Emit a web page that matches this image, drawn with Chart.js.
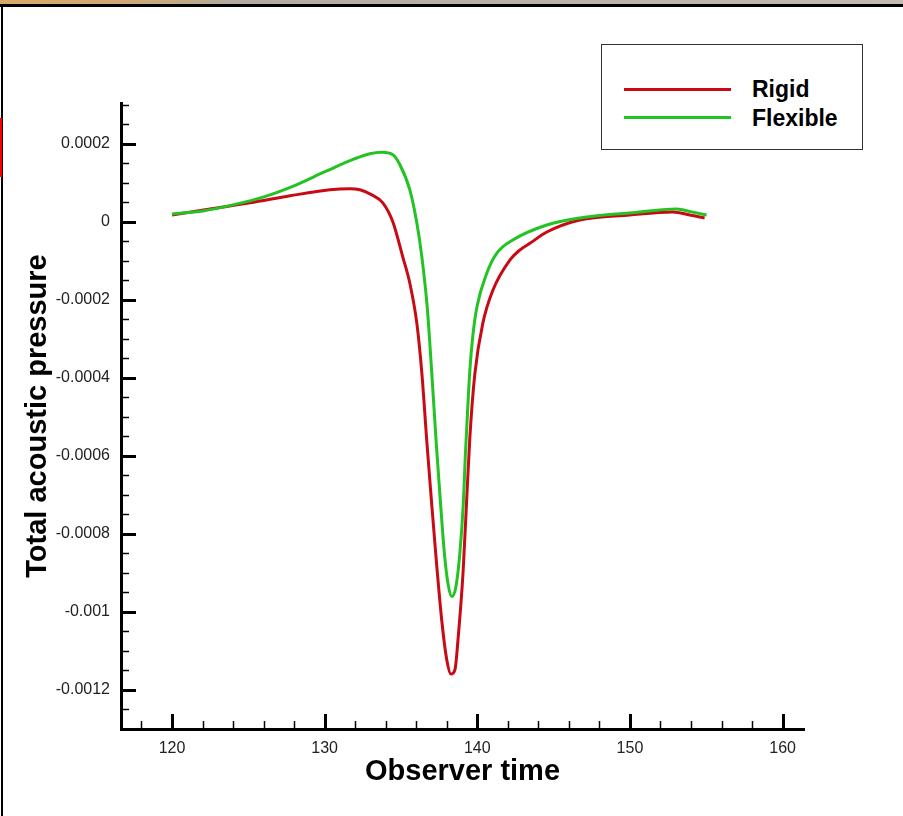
<!DOCTYPE html>
<html>
<head>
<meta charset="utf-8">
<title>Total acoustic pressure</title>
<script src="https://cdn.jsdelivr.net/npm/chart.js@4.4.1/dist/chart.umd.min.js"></script>
<style>
  html, body { margin: 0; padding: 0; background: #fff; }
  #wrap { position: relative; width: 903px; height: 816px; overflow: hidden; background: #fff; }
  #c { position: absolute; left: 0; top: 0; }
  /* window frame around the plot */
  .bar-top { position: absolute; left: 0; top: 0; width: 903px; height: 4px;
    background: linear-gradient(to right, #d8aa66 0, #cfa874 14%, #b3ab9e 26%, #bbb4a8 70%, #c2bbb0 100%); }
  .rule-top { position: absolute; left: 0; top: 4px; width: 903px; height: 3px; background: #000; }
  .rule-left { position: absolute; left: 1px; top: 4px; width: 2px; height: 812px; background: #000; }
  .mark-left { position: absolute; left: 0; top: 118px; width: 2px; height: 59px; background: #f00; }
  #legend { position: absolute; left: 601px; top: 44px; width: 262px; height: 106px; box-sizing: border-box;
    border: 1px solid #333; padding: 30px 0 0 22px; background: #fff; }
  #legend .row { display: flex; align-items: center; height: 28.5px; }
  #legend .sw { width: 107px; height: 3px; margin-right: 21px; }
  #legend .lb { font: bold 23px "Liberation Sans", Arial, sans-serif; line-height: 28.5px; color: #000; }
</style>
</head>
<body>
<div id="wrap">
  <canvas id="c" width="903" height="816"></canvas>
  <div class="bar-top"></div>
  <div class="rule-top"></div>
  <div class="rule-left"></div>
  <div class="mark-left"></div>
  <div id="legend"></div>
</div>
<script>
// ── axis setup ──
const X_MIN = 116.66, X_MAX = 161.4;
const Y_MIN = -0.0013, Y_MAX = 0.000305;
const X_TICKS = [120, 130, 140, 150, 160];
const X_LABELS = ['120', '130', '140', '150', '160'];
const Y_TICKS = [0.0002, 0, -0.0002, -0.0004, -0.0006, -0.0008, -0.001, -0.0012];
const Y_LABELS = ['0.0002', '0', '-0.0002', '-0.0004', '-0.0006', '-0.0008', '-0.001', '-0.0012'];
const X_MINOR_STEP = 2;
const Y_MINOR_STEP = 0.00005;

// ── series: observer time vs total acoustic pressure ──
const T_RIGID = [120.00, 122.49, 125.11, 127.73, 130.34, 131.65, 132.31, 133.09, 133.81, 134.47,
  135.12, 135.58, 136.04, 136.37, 136.69, 136.93, 137.28, 137.68, 138.00, 138.27,
  138.53, 138.74, 139.07, 139.29, 139.51, 139.84, 140.36, 141.02, 142.13, 142.78,
  143.44, 144.55, 146.71, 149.98, 152.80, 153.91, 154.89];
const P_RIGID = [0.180e-4, 0.335e-4, 0.489e-4, 0.670e-4, 0.824e-4, 0.850e-4, 0.824e-4, 0.695e-4, 0.489e-4, 0,
  -0.901e-4, -1.571e-4, -2.601e-4, -3.889e-4, -5.614e-4, -6.825e-4, -8.524e-4, -10.250e-4, -11.228e-4, -11.589e-4,
  -11.486e-4, -10.688e-4, -8.962e-4, -7.237e-4, -5.537e-4, -3.889e-4, -2.601e-4, -1.751e-4, -0.979e-4, -0.721e-4,
  -0.549e-4, -0.258e-4, 0.052e-4, 0.180e-4, 0.258e-4, 0.180e-4, 0.103e-4];

const T_FLEX = [120.00, 122.03, 123.99, 126.02, 127.99, 130.02, 131.98, 132.96, 133.75, 134.47,
  134.93, 135.58, 136.04, 136.37, 136.72, 137.02, 137.30, 137.52, 137.85, 138.09,
  138.33, 138.59, 138.85, 139.08, 139.22, 139.33, 139.51, 139.71, 139.97, 140.62,
  141.28, 142.32, 144.55, 146.71, 149.98, 153.06, 154.04, 155.02];
const P_FLEX = [0.206e-4, 0.283e-4, 0.438e-4, 0.644e-4, 0.927e-4, 1.288e-4, 1.622e-4, 1.751e-4, 1.790e-4, 1.725e-4,
  1.468e-4, 0.824e-4, -0.026e-4, -0.901e-4, -2.189e-4, -3.889e-4, -5.614e-4, -6.825e-4, -8.524e-4, -9.297e-4,
  -9.606e-4, -9.374e-4, -8.524e-4, -7.237e-4, -5.949e-4, -5.099e-4, -3.811e-4, -2.910e-4, -2.189e-4, -1.313e-4,
  -0.798e-4, -0.464e-4, -0.077e-4, 0.103e-4, 0.232e-4, 0.335e-4, 0.258e-4, 0.180e-4];

const FONT = '"Liberation Sans", Arial, sans-serif';
const pts = (xs, ys) => xs.map((x, i) => ({ x, y: ys[i] }));

// inward major/minor tick marks on both axes
const innerTicks = {
  id: 'innerTicks',
  afterDraw(chart) {
    const { ctx, chartArea: a, scales: { x, y } } = chart;
    ctx.save();
    ctx.strokeStyle = '#000';
    const xMark = (v, len, w) => {
      const px = Math.round(x.getPixelForValue(v)) + (w % 2 ? 0.5 : 0);
      ctx.lineWidth = w;
      ctx.beginPath(); ctx.moveTo(px, a.bottom); ctx.lineTo(px, a.bottom - len); ctx.stroke();
    };
    const yMark = (v, len, w) => {
      const py = Math.round(y.getPixelForValue(v)) + (w % 2 ? 0.5 : 0);
      ctx.lineWidth = w;
      ctx.beginPath(); ctx.moveTo(a.left, py); ctx.lineTo(a.left + len, py); ctx.stroke();
    };
    for (let k = Math.ceil(X_MIN / X_MINOR_STEP); k * X_MINOR_STEP <= X_MAX; k++) xMark(k * X_MINOR_STEP, 8, 1.5);
    for (let k = Math.ceil(Y_MIN / Y_MINOR_STEP); k * Y_MINOR_STEP <= Y_MAX; k++) yMark(k * Y_MINOR_STEP, 8, 1.5);
    X_TICKS.forEach(v => xMark(v, 15, 3));
    Y_TICKS.forEach(v => yMark(v, 15, 3));
    ctx.restore();
  }
};

const chart = new Chart(document.getElementById('c'), {
  type: 'line',
  data: {
    datasets: [
      { label: 'Rigid', data: pts(T_RIGID, P_RIGID), borderColor: '#c80a14', order: 1 },
      { label: 'Flexible', data: pts(T_FLEX, P_FLEX), borderColor: '#22c322', order: 0 }
    ]
  },
  options: {
    responsive: false,
    animation: false,
    devicePixelRatio: 1,
    parsing: false,
    layout: { padding: { left: 10, top: 103, right: 99, bottom: 20 }, autoPadding: false },
    plugins: { legend: { display: false }, tooltip: { enabled: false } },
    elements: {
      point: { radius: 0 },
      line: { borderWidth: 3, cubicInterpolationMode: 'monotone', fill: false }
    },
    scales: {
      x: {
        type: 'linear', min: X_MIN, max: X_MAX,
        afterBuildTicks: s => { s.ticks = X_TICKS.map(v => ({ value: v })); },
        afterFit: s => { s.height = 67; },
        grid: { display: false, drawTicks: false },
        border: { display: true, color: '#000', width: 3 },
        ticks: { color: '#222', font: { family: FONT, size: 16 }, padding: 10, maxRotation: 0, autoSkip: false,
          callback: (v, i) => X_LABELS[i] },
        title: { display: true, text: 'Observer time', color: '#000',
          font: { family: FONT, size: 29, weight: 'bold' }, padding: { top: 0, bottom: 6.6 } }
      },
      y: {
        type: 'linear', min: Y_MIN, max: Y_MAX,
        afterBuildTicks: s => { s.ticks = Y_TICKS.map(v => ({ value: v })); },
        afterFit: s => { s.width = 111; },
        grid: { display: false, drawTicks: false },
        border: { display: true, color: '#000', width: 3 },
        ticks: { color: '#222', font: { family: FONT, size: 16 }, padding: 11, autoSkip: false,
          callback: (v, i) => Y_LABELS[i] },
        title: { display: true, text: 'Total acoustic pressure', color: '#000',
          font: { family: FONT, size: 29, weight: 'bold' }, padding: { top: 10.6, bottom: 0 } }
      }
    }
  },
  plugins: [innerTicks]
});

// legend box in the upper right, one row per series
const legendEl = document.getElementById('legend');
chart.data.datasets.forEach(ds => {
  const row = document.createElement('div');
  row.className = 'row';
  row.innerHTML = `<span class="sw" style="background:${ds.borderColor}"></span><span class="lb">${ds.label}</span>`;
  legendEl.appendChild(row);
});
</script>
</body>
</html>
